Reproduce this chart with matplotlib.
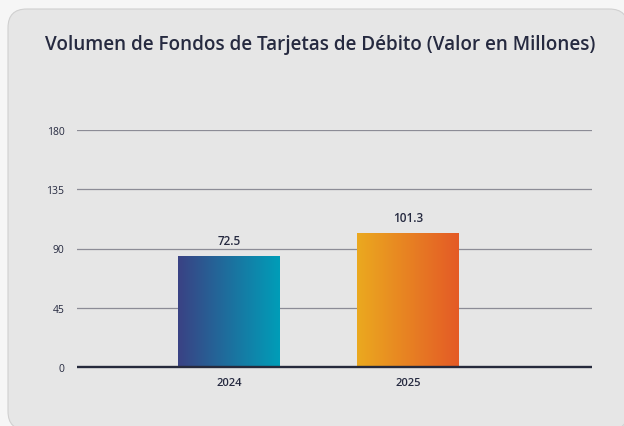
import numpy as np
import matplotlib.pyplot as plt
from matplotlib.patches import FancyBboxPatch
from matplotlib.colors import LinearSegmentedColormap

years = ["2024", "2025"]
bar_heights = [84.0, 101.8]      # heights as drawn in the picture
value_labels = ["72.5", "101.3"]  # labels as printed above the bars
y_ticks = [0, 45, 90, 135, 180]

gradients = [("#3a4284", "#009db8"), ("#eba91f", "#e45a26")]
text_color = "#262a40"

plt.rcParams['font.family'] = ['Open Sans', 'DejaVu Sans']

fig = plt.figure(figsize=(6.24, 4.27), dpi=100)
fig.patch.set_facecolor("#f6f6f6")

W, H = 624, 427
card = FancyBboxPatch((8 / W, -4 / H), 620 / W, 421 / H,
                      boxstyle="round,pad=0,rounding_size=0.03",
                      mutation_aspect=W / H,
                      transform=fig.transFigure, facecolor="#e6e6e6",
                      edgecolor="#d0d0d0", linewidth=0.8, zorder=-5)
fig.patches.append(card)

fig.text(0.513, 1 - 45 / H, "Volumen de Fondos de Tarjetas de Débito (Valor en Millones)",
         ha="center", va="center", fontsize=13.6, fontweight="semibold", color=text_color)

ax = fig.add_axes([77 / W, 1 - 368 / H, (592 - 77) / W, (368 - 131) / H])
ax.set_facecolor("none")

x = np.arange(len(years))
bars = ax.bar(x, bar_heights, width=0.565, facecolor="none", edgecolor="none", zorder=3)

grad = np.linspace(0, 1, 256).reshape(1, -1)
for bar, (c0, c1), lab in zip(bars, gradients, value_labels):
    x0, w, h = bar.get_x(), bar.get_width(), bar.get_height()
    cmap = LinearSegmentedColormap.from_list("g", [c0, c1])
    im = ax.imshow(grad, cmap=cmap, extent=[x0, x0 + w, 0, h], aspect="auto", zorder=3)
    im.set_clip_path(bar)
    ax.annotate(lab, (x0 + w / 2, h), xytext=(0, 6.5), textcoords="offset points",
                ha="center", va="bottom", fontsize=8.5, fontweight="semibold", color=text_color)

ax.set_xlim(-0.85, 2.03)
ax.set_ylim(0, 180)

ax.set_yticks(y_ticks)
ax.set_yticklabels([str(t) for t in y_ticks])
ax.set_xticks(x)
ax.set_xticklabels(years)
ax.tick_params(axis="both", length=0, colors=text_color, labelsize=7.5)
ax.tick_params(axis="y", pad=9)
ax.tick_params(axis="x", pad=7)
for lbl in ax.get_yticklabels():
    lbl.set_fontweight("medium")
for lbl in ax.get_xticklabels():
    lbl.set_fontweight("semibold")
    lbl.set_fontsize(8)

ax.grid(axis="y", color="#8c8c96", linewidth=0.9, zorder=1)
ax.axhline(0, color="#262a3c", linewidth=1.7, zorder=4, clip_on=False, solid_capstyle="butt")
for s in ax.spines.values():
    s.set_visible(False)

fig.savefig("out.png", dpi=100, facecolor=fig.get_facecolor())
